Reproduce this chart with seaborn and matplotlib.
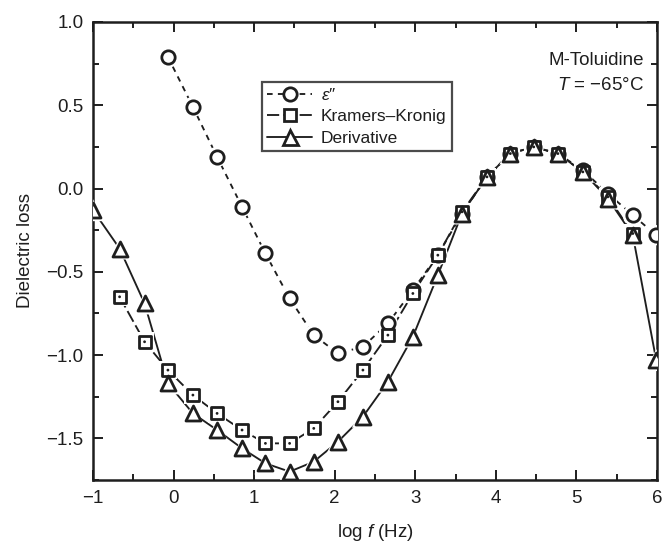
import matplotlib
matplotlib.use("Agg")
import matplotlib.pyplot as plt
from matplotlib.lines import Line2D
from matplotlib.ticker import MultipleLocator, FuncFormatter
import seaborn as sns
import pandas as pd

# log10 of frequency (Hz) for each measured point
log_f = [-1.00, -0.67, -0.36, -0.07, 0.24, 0.54, 0.85, 1.14, 1.44, 1.74, 2.04, 2.35,
         2.66, 2.97, 3.28, 3.58, 3.89, 4.18, 4.47, 4.77, 5.08, 5.39, 5.70, 5.99]

# measured loss eps'' (starts at the 4th frequency)
eps_loss = [0.79, 0.49, 0.19, -0.11, -0.39, -0.66, -0.88, -0.99, -0.95, -0.81, -0.61,
            -0.40, -0.15, 0.07, 0.21, 0.25, 0.21, 0.11, -0.03, -0.16, -0.28]
# Kramers-Kronig transform (2nd to 23rd frequency)
kk_loss = [-0.65, -0.92, -1.09, -1.24, -1.35, -1.45, -1.53, -1.53, -1.44, -1.28, -1.09,
           -0.88, -0.63, -0.40, -0.14, 0.07, 0.21, 0.25, 0.21, 0.10, -0.05, -0.27]
# derivative approximation (all frequencies)
deriv_loss = [-0.13, -0.36, -0.69, -1.17, -1.35, -1.45, -1.56, -1.65, -1.70, -1.64, -1.52,
              -1.37, -1.16, -0.89, -0.52, -0.15, 0.07, 0.21, 0.25, 0.21, 0.10, -0.06,
              -0.28, -1.03]

series_labels = ["$\\varepsilon$\u2033", "Kramers\u2013Kronig", "Derivative"]

eps_df = pd.DataFrame({"x": log_f[3:3 + len(eps_loss)], "y": eps_loss})
kk_df = pd.DataFrame({"x": log_f[1:1 + len(kk_loss)], "y": kk_loss})
der_df = pd.DataFrame({"x": log_f[:len(deriv_loss)], "y": deriv_loss})

sns.set_theme(style="ticks")
plt.rcParams["font.family"] = ["Liberation Sans", "DejaVu Sans"]
plt.rcParams["mathtext.fontset"] = "custom"
plt.rcParams["mathtext.it"] = "Liberation Sans:italic"
plt.rcParams["mathtext.rm"] = "Liberation Sans"

ink = "#1e1e1e"
fs = 13.5
fig = plt.figure(figsize=(6.62, 5.48), dpi=100)
ax = fig.add_axes([93 / 662, 1 - 480 / 548, 564 / 662, 458 / 548])

styles = [
    (eps_df, "o", 9.6, (0, (3.0, 2.8))),
    (kk_df, "s", 8.4, (0, (6.5, 2.2))),
    (der_df, "^", 10.8, "-"),
]
mew = 2.0
lw = 1.35

# connecting lines
for df, mk, ms, ls in styles:
    sns.lineplot(data=df, x="x", y="y", ax=ax, sort=False, estimator=None,
                 color=ink, linewidth=lw, linestyle=ls, zorder=2)

# white halos open a small gap between line and marker
for df, mk, ms, ls in styles:
    sns.scatterplot(data=df, x="x", y="y", ax=ax, marker=mk, s=(ms + 5) ** 2,
                    color="white", edgecolor="none", linewidth=0, zorder=3)

# hollow markers
for df, mk, ms, ls in styles:
    sns.scatterplot(data=df, x="x", y="y", ax=ax, marker=mk, s=ms ** 2,
                    facecolor="white", edgecolor=ink, linewidth=mew, zorder=4)

# centre dot inside the Kramers-Kronig squares
sns.scatterplot(data=kk_df, x="x", y="y", ax=ax, marker="o", s=4,
                color=ink, edgecolor="none", zorder=5)

ax.set_xlim(-1, 6)
ax.set_ylim(-1.75, 1.0)
ax.xaxis.set_major_locator(MultipleLocator(1))
ax.xaxis.set_minor_locator(MultipleLocator(0.5))
ax.yaxis.set_major_locator(MultipleLocator(0.5))
ax.yaxis.set_minor_locator(MultipleLocator(0.25))
ax.yaxis.set_major_formatter(FuncFormatter(lambda v, p: f"{v:.1f}".replace("-", "\u2212")))
ax.xaxis.set_major_formatter(FuncFormatter(lambda v, p: f"{v:.0f}".replace("-", "\u2212")))

ax.tick_params(which="both", direction="in", top=True, right=True,
               colors=ink, width=1.4, labelsize=fs)
ax.tick_params(which="major", length=7, pad=7)
ax.tick_params(which="minor", length=4)
for sp in ax.spines.values():
    sp.set_linewidth(1.8)
    sp.set_color(ink)

ax.set_xlabel("log $f$ (Hz)", fontsize=fs, color=ink, labelpad=11)
ax.set_ylabel("Dielectric loss", fontsize=fs, color=ink, labelpad=9)

ax.text(0.977, 0.915, "M-Toluidine", transform=ax.transAxes, ha="right",
        va="center", fontsize=fs, color=ink)
ax.text(0.977, 0.862, "$T$ = \u221265\u00b0C", transform=ax.transAxes, ha="right",
        va="center", fontsize=fs, color=ink)

handles = [Line2D([], [], color=ink, linewidth=lw, linestyle=ls, marker=mk,
                  markersize=ms, markerfacecolor="white", markeredgecolor=ink,
                  markeredgewidth=mew)
           for df, mk, ms, ls in styles]
leg = ax.legend(handles, series_labels,
                loc="upper left", bbox_to_anchor=((262 - 93) / 564, (480 - 82) / 458),
                borderaxespad=0, frameon=True, fancybox=False, fontsize=12.5,
                handlelength=2.6, handletextpad=0.5, labelspacing=0.35,
                borderpad=0.3)
leg.get_frame().set_edgecolor(ink)
leg.get_frame().set_linewidth(1.6)
for t in leg.get_texts():
    t.set_color(ink)

fig.savefig("out.png", dpi=100)
